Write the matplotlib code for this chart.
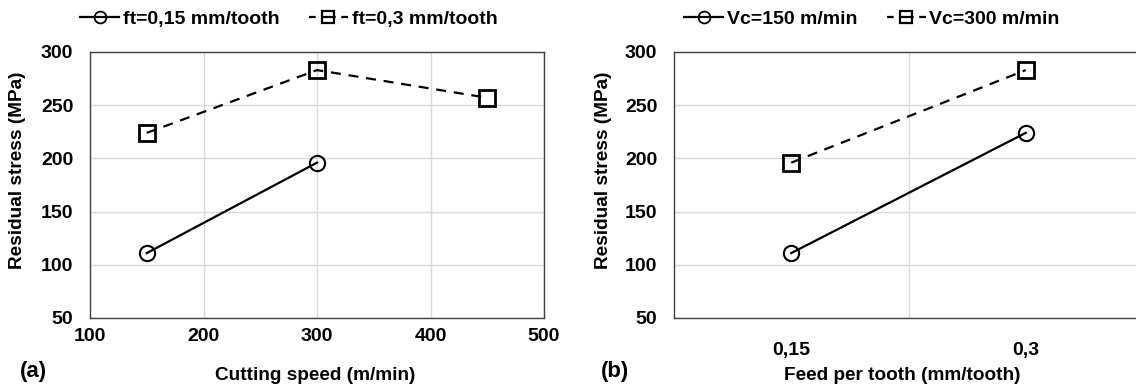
import matplotlib
matplotlib.use("Agg")
import matplotlib.pyplot as plt
from matplotlib.lines import Line2D

# Data
speed = [150, 300, 450]
ft015_stress = [111, 196]
ft03_stress = [224, 283, 257]

feed_labels = ["0,15", "0,3"]
vc150_stress = [111, 224]
vc300_stress = [196, 283]

plt.rcParams['font.family'] = ['Liberation Sans', 'DejaVu Sans']
plt.rcParams['font.weight'] = 'bold'

W, H = 1136, 387
fig = plt.figure(figsize=(W / 100, H / 100), dpi=100)

def fx(px):
    return px / W

def fy(py):
    return 1 - py / H

grid_c = '#d9d9d9'
spine_c = '#404040'
fs = 14
lfs = 13.7
LW = 1.6

axL = fig.add_axes([fx(90), fy(318), fx(544) - fx(90), fy(52) - fy(318)])
axR = fig.add_axes([fx(674), fy(318), fx(1143) - fx(674), fy(52) - fy(318)])

line_kw = dict(color='black', lw=LW, markerfacecolor='none', markeredgecolor='black')
circ_kw = dict(marker='o', markersize=11, markeredgewidth=1.5)
sq_kw = dict(marker='s', markersize=11.5, markeredgewidth=2.0)
dash = (0, (4.5, 3.5))

axL.plot(speed[:len(ft015_stress)], ft015_stress, linestyle='-', **circ_kw, **line_kw, zorder=3)
axL.plot(speed, ft03_stress, linestyle=dash, **sq_kw, **line_kw, zorder=3)
axL.set_xlim(100, 500)
axL.set_xticks([100, 200, 300, 400, 500])

xcat = [1, 2]
axR.plot(xcat, vc150_stress, linestyle='-', **circ_kw, **line_kw, zorder=3)
axR.plot(xcat, vc300_stress, linestyle=dash, **sq_kw, **line_kw, zorder=3)
axR.set_xlim(0.5, 2.5)
axR.set_xticks(xcat)
axR.set_xticklabels(feed_labels)
axR.set_xticks([1.5], minor=True)

for ax in (axL, axR):
    ax.set_ylim(50, 300)
    ax.set_yticks([50, 100, 150, 200, 250, 300])
    for s in ax.spines.values():
        s.set_color(spine_c)
        s.set_linewidth(1.0)
    ax.tick_params(axis='both', which='both', length=0, labelsize=fs)
    ax.tick_params(axis='y', pad=12)
    ax.set_axisbelow(True)
    ax.grid(True, axis='y', color=grid_c, lw=1.0)

axL.grid(True, axis='x', color=grid_c, lw=1.0)
axL.tick_params(axis='x', pad=7)
axR.grid(True, axis='x', which='minor', color=grid_c, lw=1.0)
axR.tick_params(axis='x', pad=17)

for ax in (axL, axR):
    for lab in ax.get_xticklabels() + ax.get_yticklabels():
        lab.set_fontweight('bold')

# Legends
hl = 2.0
Lu = hl * fs / LW  # handle length in linewidth units (dashes scale with lw)
a, g = 3.0, 2.5
mid = Lu - 2 * a - 2 * g
leg_dash = (0, (a, g, mid, g, a, 0.001))

def handles():
    h1 = Line2D([], [], linestyle='-', marker='o', markersize=8.5, markeredgewidth=1.3, **line_kw)
    h2 = Line2D([], [], linestyle=leg_dash, marker='s', markersize=8.5,
                markeredgewidth=1.6, **line_kw)
    return h1, h2

leg_kw = dict(loc='center', ncol=2, frameon=False, handlelength=hl, handletextpad=0.2,
              columnspacing=1.5, prop={'weight': 'bold', 'size': fs})
h1, h2 = handles()
fig.legend([h1, h2], ['ft=0,15 mm/tooth', 'ft=0,3 mm/tooth'],
           bbox_to_anchor=(fx(289), fy(19)), **leg_kw)
h1, h2 = handles()
fig.legend([h1, h2], ['Vc=150 m/min', 'Vc=300 m/min'],
           bbox_to_anchor=(fx(872), fy(19)), **leg_kw)

# Axis labels
fig.text(fx(18), fy(170), 'Residual stress (MPa)', rotation=90, ha='center', va='center',
         fontsize=lfs, fontweight='bold')
fig.text(fx(603), fy(170), 'Residual stress (MPa)', rotation=90, ha='center', va='center',
         fontsize=lfs, fontweight='bold')
fig.text(fx(315), fy(375), 'Cutting speed (m/min)', ha='center', va='center',
         fontsize=lfs, fontweight='bold')
fig.text(fx(902), fy(375), 'Feed per tooth (mm/tooth)', ha='center', va='center',
         fontsize=lfs, fontweight='bold')
fig.text(fx(20), fy(372), '(a)', ha='left', va='center', fontsize=16, fontweight='bold')
fig.text(fx(601), fy(372), '(b)', ha='left', va='center', fontsize=16, fontweight='bold')

fig.savefig('out.png', dpi=100)
